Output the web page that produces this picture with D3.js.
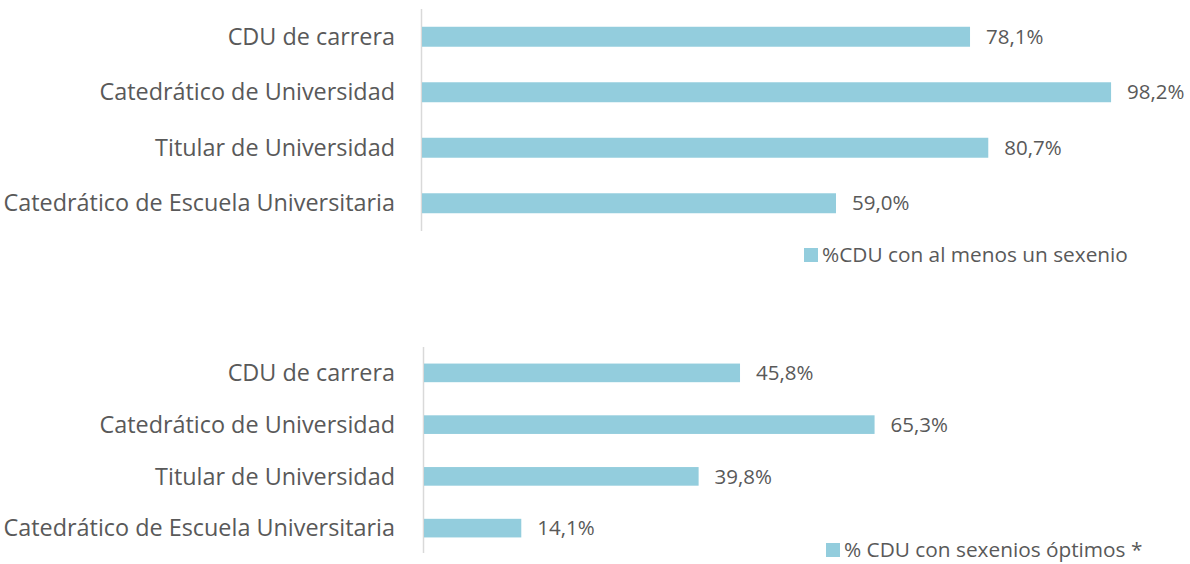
<!DOCTYPE html>
<html><head><meta charset="utf-8">
<script src="https://cdn.jsdelivr.net/npm/d3@7"></script>
<style>body{margin:0;background:#fff}svg{display:block}</style>
</head><body>
<script>
const categories = ["CDU de carrera","Catedrático de Universidad","Titular de Universidad","Catedrático de Escuela Universitaria"];
const valuesTop = [78.1, 98.2, 80.7, 59.0];
const valuesBottom = [45.8, 65.3, 39.8, 14.1];
const legendTop = "%CDU con al menos un sexenio";
const legendBottom = "% CDU con sexenios óptimos *";

const W = 1190, H = 564;
const svg = d3.select("body").append("svg").attr("width", W).attr("height", H);
const FONT = "'Open Sans', sans-serif";
const barColor = "#93CDDD", textColor = "#595959";

function panel(values, legend, cfg){
  const g = svg.append("g");
  const x = d3.scaleLinear().domain([0,100]).range([cfg.x0, cfg.x0 + cfg.w100]);
  const y = d3.scaleBand().domain(categories).range([cfg.y0, cfg.y1]).paddingInner(cfg.pad).paddingOuter(cfg.pad/2);
  g.append("line").attr("x1", cfg.x0-0.5).attr("x2", cfg.x0-0.5).attr("y1", cfg.axTop).attr("y2", cfg.axBot)
    .attr("stroke", "#d9d9d9").attr("stroke-width", 1.5);
  g.selectAll("rect.bar").data(values).join("rect").attr("class","bar")
    .attr("x", x(0)).attr("y", (d,i)=>y(categories[i])).attr("width", d=>x(d)-x(0)).attr("height", y.bandwidth())
    .attr("fill", barColor);
  g.selectAll("text.val").data(values).join("text").attr("class","val")
    .attr("x", d=>x(d)+16).attr("y", (d,i)=>y(categories[i])+y.bandwidth()/2).attr("dy","0.35em")
    .attr("font-family", FONT).attr("font-size", 20.5).attr("fill", textColor)
    .text(d=>d.toFixed(1).replace(".", ",")+"%");
  g.selectAll("text.cat").data(categories).join("text").attr("class","cat")
    .attr("x", 395).attr("y", d=>y(d)+y.bandwidth()/2).attr("dy","0.35em").attr("text-anchor","end")
    .attr("font-family", FONT).attr("font-size", 23.4).attr("fill", textColor).text(d=>d);
  g.append("rect").attr("x", cfg.lx).attr("y", cfg.ly-7).attr("width", 14).attr("height", 14).attr("fill", barColor);
  g.append("text").attr("x", cfg.lx+18).attr("y", cfg.ly).attr("dy","0.35em")
    .attr("font-family", FONT).attr("font-size", 20.8).attr("fill", textColor).text(legend);
}

panel(valuesTop, legendTop, {x0:422, w100:701.7, y0:9, y1:231, pad:0.64, axTop:9, axBot:231, lx:804, ly:255});
panel(valuesBottom, legendBottom, {x0:424, w100:690, y0:347, y1:554, pad:0.64, axTop:347, axBot:553, lx:826, ly:550});
</script>
</body></html>
